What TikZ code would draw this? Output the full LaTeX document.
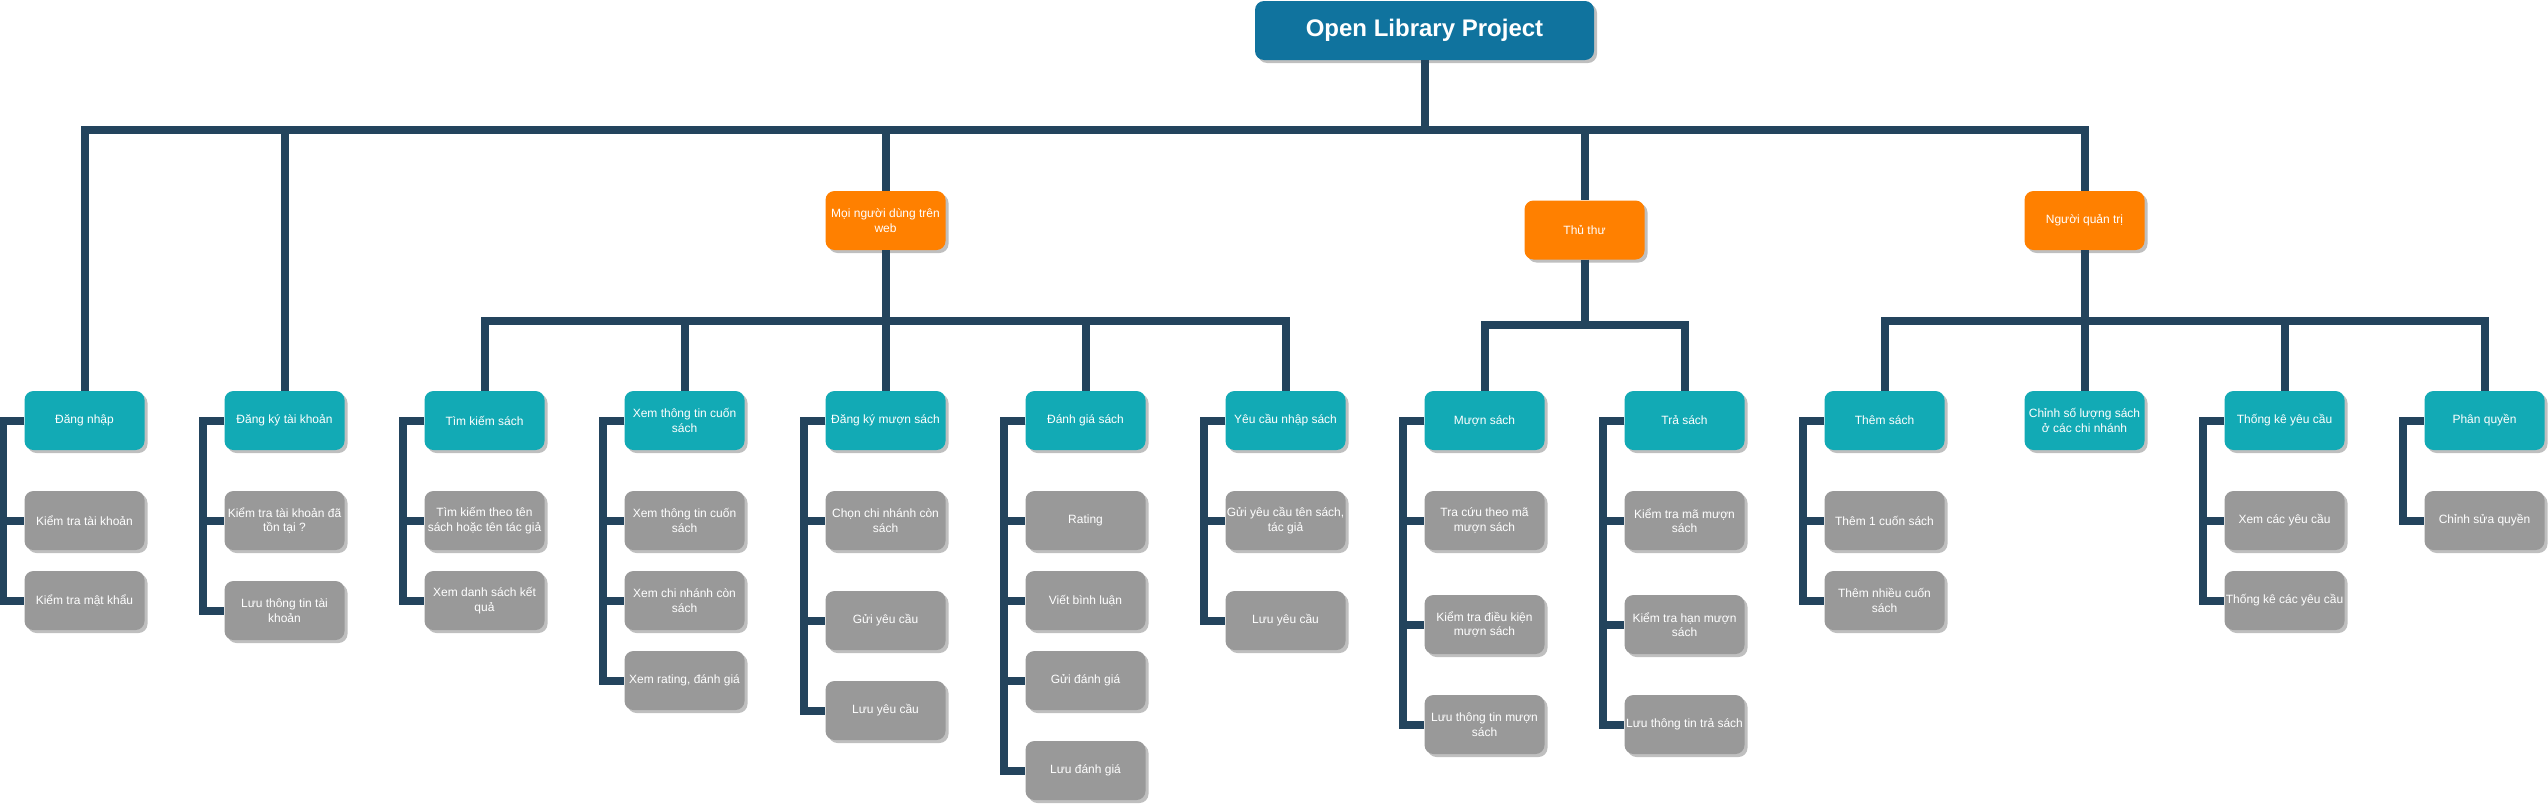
\documentclass[tikz,border=0pt]{standalone}
\usepackage{fontspec}
\setmainfont{Liberation Sans}
\usetikzlibrary{shadows}
\definecolor{navy}{HTML}{23445D}
\definecolor{tealbox}{HTML}{12AAB5}
\definecolor{orangebox}{HTML}{FF8000}
\definecolor{rootblue}{HTML}{10739E}
\definecolor{greybox}{HTML}{999999}
\tikzset{
	box/.style={rounded corners=9pt, minimum width=120pt, minimum height=59pt, inner xsep=0pt, align=center, text=white,
		font=\fontsize{12}{14.5}\selectfont, drop shadow={shadow xshift=3pt, shadow yshift=-3pt, fill=black!25, opacity=1}},
	actor/.style={box, fill=orangebox},
	task/.style={box, fill=tealbox},
	leaf/.style={box, fill=greybox},
	link/.style={draw=navy, line width=8pt}
}

\begin{document}
\begin{tikzpicture}[x=1pt, y=-1pt]
	\useasboundingbox (0,0) rectangle (2548,806);
	\node[box, fill=rootblue, minimum width=339pt, font=\bfseries\fontsize{24}{28}\selectfont] (R) at (1424.5,30.5) {Open Library Project};
	\node[actor] (W) at (885.5,220.5) {Mọi người dùng trên\\web};
	\node[actor] (L) at (1584.5,230) {Thủ thư};
	\node[actor] (A) at (2084.5,220.5) {Người quản trị};
	\node[task] (T1) at (84.5,420.5) {Đăng nhập};
	\node[task] (T2) at (284.5,420.5) {Đăng ký tài khoản};
	\node[task] (T3) at (484.5,420.5) {Tìm kiếm sách};
	\node[task] (T4) at (684.5,420.5) {Xem thông tin cuốn\\sách};
	\node[task] (T5) at (885.5,420.5) {Đăng ký mượn sách};
	\node[task] (T6) at (1085.5,420.5) {Đánh giá sách};
	\node[task] (T7) at (1285.5,420.5) {Yêu cầu nhập sách};
	\node[task] (T8) at (1484.5,420.5) {Mượn sách};
	\node[task] (T9) at (1684.5,420.5) {Trả sách};
	\node[task] (T10) at (1884.5,420.5) {Thêm sách};
	\node[task] (T11) at (2084.5,420.5) {Chỉnh số lượng sách\\ở các chi nhánh};
	\node[task] (T12) at (2284.5,420.5) {Thống kê yêu cầu};
	\node[task] (T13) at (2484.5,420.5) {Phân quyền};
	\node[leaf] (T1a) at (84.5,520.5) {Kiểm tra tài khoản};
	\node[leaf] (T1b) at (84.5,600.5) {Kiểm tra mật khẩu};
	\node[leaf] (T2a) at (284.5,520.5) {Kiểm tra tài khoản đã\\tồn tại ?};
	\node[leaf] (T2b) at (284.5,610.5) {Lưu thông tin tài\\khoản};
	\node[leaf] (T3a) at (484.5,520.5) {Tìm kiếm theo tên\\sách hoặc tên tác giả};
	\node[leaf] (T3b) at (484.5,600.5) {Xem danh sách kết\\quả};
	\node[leaf] (T4a) at (684.5,520.5) {Xem thông tin cuốn\\sách};
	\node[leaf] (T4b) at (684.5,600.5) {Xem chi nhánh còn\\sách};
	\node[leaf] (T4c) at (684.5,680.5) {Xem rating, đánh giá};
	\node[leaf] (T5a) at (885.5,520.5) {Chọn chi nhánh còn\\sách};
	\node[leaf] (T5b) at (885.5,620.5) {Gửi yêu cầu};
	\node[leaf] (T5c) at (885.5,710.5) {Lưu yêu cầu};
	\node[leaf] (T6a) at (1085.5,520.5) {Rating};
	\node[leaf] (T6b) at (1085.5,600.5) {Viết bình luận};
	\node[leaf] (T6c) at (1085.5,680.5) {Gửi đánh giá};
	\node[leaf] (T6d) at (1085.5,770.5) {Lưu đánh giá};
	\node[leaf] (T7a) at (1285.5,520.5) {Gửi yêu cầu tên sách,\\tác giả};
	\node[leaf] (T7b) at (1285.5,620.5) {Lưu yêu cầu};
	\node[leaf] (T8a) at (1484.5,520.5) {Tra cứu theo mã\\mượn sách};
	\node[leaf] (T8b) at (1484.5,624.5) {Kiểm tra điều kiện\\mượn sách};
	\node[leaf] (T8c) at (1484.5,724.5) {Lưu thông tin mượn\\sách};
	\node[leaf] (T9a) at (1684.5,520.5) {Kiểm tra mã mượn\\sách};
	\node[leaf] (T9b) at (1684.5,624.5) {Kiểm tra hạn mượn\\sách};
	\node[leaf] (T9c) at (1684.5,724.5) {Lưu thông tin trả sách};
	\node[leaf] (T10a) at (1884.5,520.5) {Thêm 1 cuốn sách};
	\node[leaf] (T10b) at (1884.5,600.5) {Thêm nhiều cuốn\\sách};
	\node[leaf] (T12a) at (2284.5,520.5) {Xem các yêu cầu};
	\node[leaf] (T12b) at (2284.5,600.5) {Thống kê các yêu cầu};
	\node[leaf] (T13a) at (2484.5,520.5) {Chỉnh sửa quyền};
	\draw[link] (R.south) -- ++(0,70) coordinate (B0);
	\foreach \n in {T1, T2, W, L, A} \draw[link] (B0) -| (\n.north);
	\draw[link] (W.south) -- ++(0,71) coordinate (B1);
	\foreach \n in {T3, T4, T5, T6, T7} \draw[link] (B1) -| (\n.north);
	\draw[link] (L.south) -- ++(0,65.5) coordinate (B2);
	\foreach \n in {T8, T9} \draw[link] (B2) -| (\n.north);
	\draw[link] (A.south) -- ++(0,70.5) coordinate (B3);
	\foreach \n in {T10, T11, T12, T13} \draw[link] (B3) -| (\n.north);
	\foreach \p/\c in {T1/T1a, T1/T1b, T2/T2a, T2/T2b, T3/T3a, T3/T3b, T4/T4a, T4/T4b, T4/T4c,
		T5/T5a, T5/T5b, T5/T5c, T6/T6a, T6/T6b, T6/T6c, T6/T6d, T7/T7a, T7/T7b, T8/T8a, T8/T8b, T8/T8c,
		T9/T9a, T9/T9b, T9/T9c, T10/T10a, T10/T10b, T12/T12a, T12/T12b, T13/T13a}
		\draw[link] (\p.west) -- ++(-21,0) |- (\c.west);
\end{tikzpicture}
\end{document}
